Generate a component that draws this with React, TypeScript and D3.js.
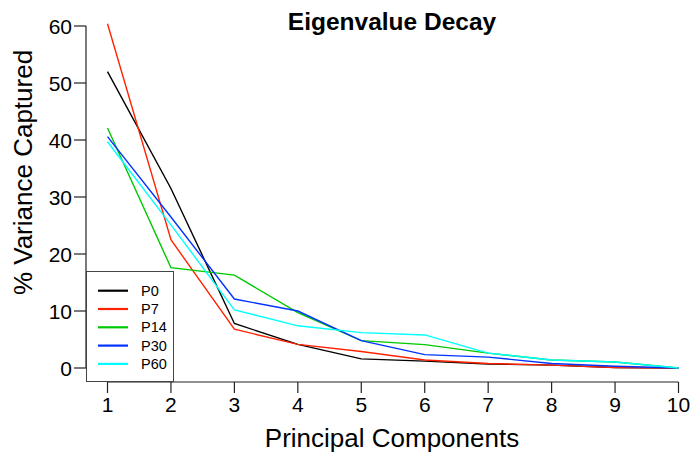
import React from "react";
import * as d3 from "d3";

const components = [1, 2, 3, 4, 5, 6, 7, 8, 9, 10];
const seriesNames = ["P0", "P7", "P14", "P30", "P60"];
const seriesColors = ["#000000", "#FF2200", "#00C800", "#0033FF", "#00FFFF"];
const p0 = [52.0, 31.5, 7.8, 4.15, 1.6, 1.2, 0.7, 0.5, 0.1, 0];
const p7 = [60.4, 22.5, 6.8, 4.15, 2.9, 1.4, 0.8, 0.5, 0.1, 0];
const p14 = [42.1, 17.6, 16.3, 9.7, 4.8, 4.1, 2.6, 1.4, 1.05, 0];
const p30 = [40.6, 26.5, 12.1, 10.0, 4.8, 2.35, 1.9, 0.8, 0.3, 0];
const p60 = [39.7, 25.1, 10.2, 7.4, 6.2, 5.8, 2.6, 1.4, 1.05, 0];
const seriesValues = [p0, p7, p14, p30, p60];
const yTicks = [0, 10, 20, 30, 40, 50, 60];

const FONT = "'Liberation Sans', Arial, Helvetica, sans-serif";

export default function App() {
  const W = 694, H = 459;
  const x = d3.scaleLinear().domain([1, 10]).range([107.5, 678.5]);
  const y = d3.scaleLinear().domain([0, 60]).range([368, 26]);
  const line = d3.line<number>().x((_, i) => x(components[i])).y((d) => y(d));
  const axisY = 382;
  const axisX = 86;
  const tick = 11;

  return (
    <svg width={W} height={H} style={{ position: "absolute", left: 0, top: 0, background: "#fff" }} fontFamily={FONT}>
      <rect x={0} y={0} width={W} height={H} fill="#fff" />
      {/* title */}
      <text x={392} y={30} textAnchor="middle" fontSize={24.5} fontWeight="bold">Eigenvalue Decay</text>
      {/* series */}
      {seriesValues.map((vals, k) => (
        <path key={k} d={line(vals) || ""} fill="none" stroke={seriesColors[k]} strokeWidth={1.4} />
      ))}
      {/* y axis */}
      <line x1={axisX} x2={axisX} y1={y(0)} y2={y(60)} stroke="#222" strokeWidth={1.2} />
      {yTicks.map((t) => (
        <g key={t}>
          <line x1={axisX - 12} x2={axisX} y1={y(t)} y2={y(t)} stroke="#222" strokeWidth={1.2} />
          <text x={72} y={y(t)} dy="0.36em" textAnchor="end" fontSize={21}>{t}</text>
        </g>
      ))}
      {/* x axis */}
      <line x1={x(1)} x2={x(10)} y1={axisY} y2={axisY} stroke="#222" strokeWidth={1.2} />
      {components.map((c) => (
        <g key={c}>
          <line x1={x(c)} x2={x(c)} y1={axisY} y2={axisY + tick} stroke="#222" strokeWidth={1.2} />
          <text x={x(c)} y={412} textAnchor="middle" fontSize={21}>{c}</text>
        </g>
      ))}
      {/* axis labels */}
      <text x={392} y={447} textAnchor="middle" fontSize={26}>Principal Components</text>
      <text transform={`translate(32,172.5) rotate(-90)`} textAnchor="middle" fontSize={26}>% Variance Captured</text>
      {/* legend */}
      <rect x={86.5} y={271.5} width={87} height={110} fill="#fff" stroke="#444" strokeWidth={1} />
      {seriesNames.map((n, i) => {
        const cy = 290.7 + i * 18.3;
        return (
          <g key={n}>
            <line x1={98} x2={128} y1={cy} y2={cy} stroke={seriesColors[i]} strokeWidth={2.2} />
            <text x={141} y={cy + 5} fontSize={14.5}>{n}</text>
          </g>
        );
      })}
    </svg>
  );
}
